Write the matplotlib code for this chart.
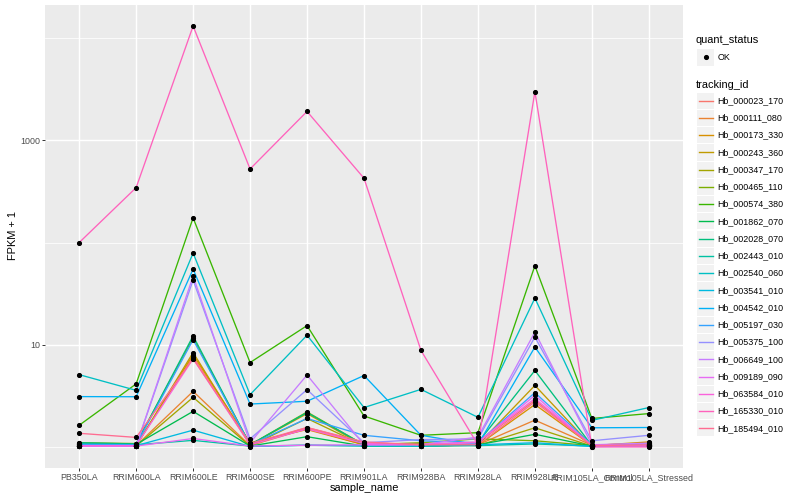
import numpy as np
import matplotlib
matplotlib.use("Agg")
import matplotlib.pyplot as plt
from matplotlib.patches import Rectangle
from matplotlib.lines import Line2D
from matplotlib.ticker import NullLocator

samples = ["PB350LA", "RRIM600LA", "RRIM600LE", "RRIM600SE", "RRIM600PE",
           "RRIM901LA", "RRIM928BA", "RRIM928LA", "RRIM928LE",
           "RRIM105LA_Control", "RRIM105LA_Stressed"]

tracking_ids = ["Hb_000023_170", "Hb_000111_080", "Hb_000173_330", "Hb_000243_360",
                "Hb_000347_170", "Hb_000465_110", "Hb_000574_380", "Hb_001862_070",
                "Hb_002028_070", "Hb_002443_010", "Hb_002540_060", "Hb_003541_010",
                "Hb_004542_010", "Hb_005197_030", "Hb_005375_100", "Hb_006649_100",
                "Hb_009189_090", "Hb_063584_010", "Hb_165330_010", "Hb_185494_010"]

colors = ["#F8766D", "#EA8331", "#D89000", "#C09B00", "#A3A500", "#7CAE00",
          "#39B600", "#00BB4E", "#00BF7D", "#00C1A3", "#00BFC4", "#00BAE0",
          "#00B0F6", "#35A2FF", "#9590FF", "#C77CFF", "#E76BF3", "#FA62DB",
          "#FF62BC", "#FF6C91"]

# FPKM + 1 per tracking id, in sample order
hb_000023_170 = [1.05, 1.04, 7.6, 1.05, 1.55, 1.10, 1.05, 1.10, 2.86, 1.05, 1.06]
hb_000111_080 = [1.03, 1.03, 3.5, 1.03, 1.51, 1.05, 1.03, 1.05, 1.83, 1.04, 1.09]
hb_000173_330 = [1.02, 1.03, 8.0, 1.10, 1.48, 1.05, 1.02, 1.04, 2.60, 1.03, 1.12]
hb_000243_360 = [1.02, 1.02, 8.4, 1.05, 2.12, 1.03, 1.02, 1.05, 4.00, 1.02, 1.04]
hb_000347_170 = [1.02, 1.02, 3.06, 1.02, 1.90, 1.03, 1.08, 1.03, 1.54, 1.02, 1.03]
hb_000465_110 = [1.10, 1.08, 11.7, 1.05, 2.20, 1.05, 1.10, 1.20, 1.15, 1.03, 1.05]
hb_000574_380 = [1.63, 4.14, 174.6, 6.7, 15.4, 2.01, 1.30, 1.38, 59.4, 1.90, 2.12]
hb_001862_070 = [1.08, 1.06, 2.23, 1.02, 1.26, 1.02, 1.02, 1.05, 1.33, 1.02, 1.03]
hb_002028_070 = [1.10, 1.07, 12.2, 1.05, 2.17, 1.05, 1.05, 1.10, 5.60, 1.03, 1.05]
hb_002443_010 = [1.07, 1.05, 1.16, 1.02, 1.04, 1.02, 1.02, 1.03, 1.07, 1.02, 1.02]
hb_002540_060 = [5.10, 3.58, 79.0, 3.25, 12.4, 2.43, 3.66, 1.95, 28.6, 1.82, 2.43]
hb_003541_010 = [1.05, 1.03, 1.46, 1.01, 1.04, 1.03, 1.02, 1.05, 1.10, 1.01, 1.02]
hb_004542_010 = [3.11, 3.10, 55.0, 2.63, 2.80, 5.00, 1.30, 1.05, 9.50, 1.54, 1.55]
hb_005197_030 = [1.06, 1.05, 11.2, 1.05, 1.90, 1.30, 1.15, 1.10, 3.40, 1.05, 1.06]
hb_005375_100 = [1.02, 1.02, 43.0, 1.20, 3.64, 1.10, 1.18, 1.20, 11.9, 1.15, 1.30]
hb_006649_100 = [1.02, 1.02, 47.0, 1.10, 5.06, 1.05, 1.05, 1.25, 13.3, 1.05, 1.09]
hb_009189_090 = [1.02, 1.02, 1.21, 1.02, 1.04, 1.05, 1.05, 1.10, 3.20, 1.02, 1.02]
hb_063584_010 = [1.03, 1.03, 7.3, 1.05, 1.50, 1.08, 1.06, 1.12, 2.97, 1.04, 1.04]
hb_165330_010 = [100.0, 345.0, 13150.0, 525.0, 1920.0, 426.0, 8.8, 1.05, 3000.0, 1.0, 1.0]
hb_185494_010 = [1.36, 1.24, 7.3, 1.08, 1.55, 1.12, 1.05, 1.05, 2.76, 1.03, 1.05]

series = [hb_000023_170, hb_000111_080, hb_000173_330, hb_000243_360, hb_000347_170,
          hb_000465_110, hb_000574_380, hb_001862_070, hb_002028_070, hb_002443_010,
          hb_002540_060, hb_003541_010, hb_004542_010, hb_005197_030, hb_005375_100,
          hb_006649_100, hb_009189_090, hb_063584_010, hb_165330_010, hb_185494_010]

y_major = [10, 1000]
y_minor = [1, 100, 10000]

plt.rcParams['font.family'] = ['Liberation Sans', 'DejaVu Sans']

W, H = 800, 500
fig = plt.figure(figsize=(W / 100, H / 100), dpi=100)
fig.patch.set_facecolor('white')
PL, PR, PT, PB = 45, 683, 5, 468
ax = fig.add_axes([PL / W, 1 - PB / H, (PR - PL) / W, (PB - PT) / H])
ax.set_facecolor('#EBEBEB')

x = np.arange(len(samples))
allv = np.concatenate([np.array(s) for s in series])
lo, hi = np.log10(allv.min()), np.log10(allv.max())
pad = 0.05 * (hi - lo)
ax.set_yscale('log')
ax.set_ylim(10 ** (lo - pad), 10 ** (hi + pad))
ax.set_xlim(-0.6, len(samples) - 1 + 0.6)

for v in y_minor:
    ax.axhline(v, color='white', lw=0.55, zorder=0.5)
for v in y_major:
    ax.axhline(v, color='white', lw=1.05, zorder=0.6)
for xi in x:
    ax.axvline(xi, color='white', lw=1.05, zorder=0.6)

for s, c in zip(series, colors):
    ax.plot(x, s, color=c, lw=0.95, zorder=3, solid_capstyle='butt')
for s in series:
    ax.plot(x, s, linestyle='none', marker='o', ms=2.7, color='black', zorder=4)

ax.yaxis.set_minor_locator(NullLocator())
ax.set_yticks(y_major)
ax.set_yticklabels([str(v) for v in y_major])
ax.set_xticks(x)
ax.set_xticklabels(samples)
ax.tick_params(axis='both', which='major', length=2.0, width=0.7, color='#333333',
               labelcolor='#4D4D4D', labelsize=6.4, pad=1.6)
for sp in ax.spines.values():
    sp.set_visible(False)

fig.text(364 / W, 1 - 488 / H, "sample_name", ha='center', va='center',
         fontsize=7.9, color='black')
fig.text(13 / W, 1 - 236 / H, "FPKM + 1", ha='center', va='center',
         rotation=90, fontsize=7.9, color='black')

# legends drawn in pixel coordinates
lg = fig.add_axes([0, 0, 1, 1], facecolor='none')
lg.set_xlim(0, W)
lg.set_ylim(H, 0)
lg.axis('off')

lg.text(696, 40, "quant_status", ha='left', va='center', fontsize=7.9)
lg.add_patch(Rectangle((697, 48.5), 17, 17, facecolor='#F2F2F2', edgecolor='none'))
lg.plot([705.5], [57], marker='o', ms=2.7, color='black')
lg.text(717.5, 57, "OK", ha='left', va='center', fontsize=6.4, color='black')

lg.text(696, 84.5, "tracking_id", ha='left', va='center', fontsize=7.9)
y0, dy = 100.7, 17.24
for i, (tid, c) in enumerate(zip(tracking_ids, colors)):
    yc = y0 + dy * i
    lg.add_patch(Rectangle((697, yc - 8.1), 17, 16.2, facecolor='#F2F2F2', edgecolor='none'))
    lg.add_line(Line2D([698.5, 712.5], [yc, yc], color=c, lw=1.0))
    lg.text(717.5, yc, tid, ha='left', va='center', fontsize=6.4, color='black')

fig.savefig("out.png", dpi=100)
